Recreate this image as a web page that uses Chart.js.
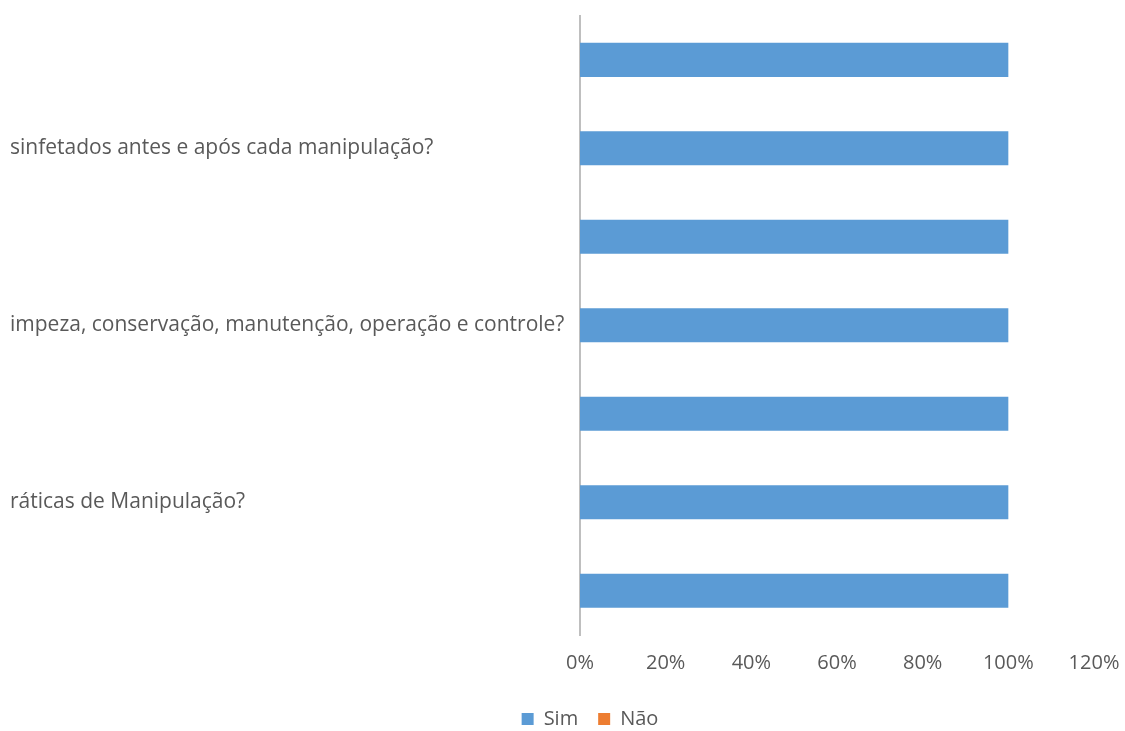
<!DOCTYPE html>
<html>
<head>
<meta charset="utf-8">
<script src="https://cdn.jsdelivr.net/npm/chart.js@4.4.0/dist/chart.umd.min.js"></script>
<style>
    html, body { margin: 0; padding: 0; background: #ffffff; }
    #grafico { width: 1125px; height: 731px; }
</style>
</head>
<body>
<div id="grafico"><canvas id="graficoBarras"></canvas></div>
<script>
// perguntas (os textos aparecem cortados a esquerda na imagem)
const perguntas = [
    '',
    'sinfetados antes e após cada manipulação?',
    '',
    'impeza, conservação, manutenção, operação e controle?',
    '',
    'ráticas de Manipulação?',
    ''
];
const valoresSim = [100, 100, 100, 100, 100, 100, 100];
const valoresNao = [0, 0, 0, 0, 0, 0, 0];
const marcasEixoX = [0, 20, 40, 60, 80, 100, 120];

const fonte = { family: 'Open Sans', size: 20 };
const fontePerguntas = { family: 'Open Sans', size: 21 };
const corTexto = '#595959';

// a legenda original fica um pouco a direita do centro
const deslocarLegenda = {
    id: 'deslocarLegenda',
    afterLayout: function (chart) {
        chart.legend.left += 76;
    }
};

const dados = {
    labels: perguntas,
    datasets: [{
        label: 'Sim',
        data: valoresSim,
        backgroundColor: '#5b9bd5',
        borderWidth: 0,
        barPercentage: 0.77,
        categoryPercentage: 0.5
    }, {
        label: 'Não',
        data: valoresNao,
        backgroundColor: '#ed7d31',
        borderWidth: 0,
        barPercentage: 0.77,
        categoryPercentage: 0.5
    }]
};

const config = {
    type: 'bar',
    data: dados,
    options: {
        indexAxis: 'y',
        responsive: true,
        maintainAspectRatio: false,
        animation: false,
        layout: {
            padding: { left: 10, right: 31, top: 15, bottom: -8 }
        },
        plugins: {
            legend: {
                position: 'bottom',
                labels: {
                    font: fonte,
                    color: corTexto,
                    boxWidth: 12,
                    boxHeight: 12,
                    padding: 20
                }
            },
            tooltip: { enabled: false }
        },
        scales: {
            x: {
                stacked: true,
                min: 0,
                max: 120,
                afterBuildTicks: function (eixo) {
                    eixo.ticks = marcasEixoX.map(function (v) { return { value: v }; });
                },
                afterFit: function (eixo) {
                    eixo.height = 54;
                },
                grid: { display: false, drawTicks: true, tickLength: 16 },
                border: { display: false },
                ticks: {
                    font: fonte,
                    color: corTexto,
                    padding: 0,
                    maxRotation: 0,
                    callback: function (v) { return v + '%'; }
                }
            },
            y: {
                stacked: true,
                grid: { display: false, drawTicks: false },
                border: { display: true, color: '#bfbfbf', width: 2 },
                afterFit: function (eixo) {
                    eixo.width = 570;
                },
                ticks: {
                    font: fontePerguntas,
                    color: corTexto,
                    crossAlign: 'far',
                    autoSkip: false
                }
            }
        }
    },
    plugins: [deslocarLegenda]
};

new Chart(document.getElementById('graficoBarras'), config);
</script>
</body>
</html>
